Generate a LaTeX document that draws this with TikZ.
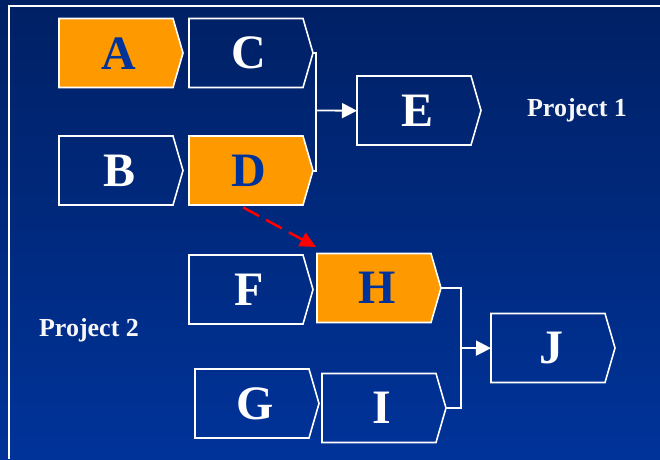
\documentclass[tikz,border=0pt]{standalone}
\usepackage{fontspec}
\setmainfont{Liberation Serif}
\usetikzlibrary{arrows.meta}
\definecolor{navytop}{RGB}{0,32,100}
\definecolor{navybot}{RGB}{0,51,153}
\definecolor{orng}{RGB}{255,153,0}
\definecolor{ltrblue}{RGB}{0,51,153}
\tikzset{
  boxtext/.style={minimum width=114pt, minimum height=69pt, inner sep=0pt,
    font=\fontsize{48}{48}\selectfont\bfseries, anchor=north west},
  outline/.style={draw=white, line width=1.6pt},
  conn/.style={draw=white, line width=1.8pt},
  projtext/.style={text=white!94!gray, font=\fontsize{26}{26}\selectfont\bfseries, inner sep=0pt},
}
\newcommand\taskbox[5]{%
  \path[outline, fill=#4] (#2,#3) -- ++(114,0) -- ++(10,34.5) -- ++(-10,34.5) -- ++(-114,0) -- cycle;
  \node[boxtext, text=#5] (#1) at (#2,#3) {\hspace{6pt}#1};
  \coordinate (#1tip) at ([xshift=10pt]#1.east);
}
\begin{document}
\begin{tikzpicture}[x=1pt, y=-1pt]
\useasboundingbox (0,0) rectangle (660,459);
\shade[top color=navytop, bottom color=navybot] (0,0) rectangle (660,459);
\draw[white, line width=2pt] (660,6) -- (9,6) -- (9,459);

\taskbox{A}{59}{18.5}{orng}{ltrblue}
\taskbox{C}{189}{18.5}{none}{white}
\taskbox{B}{59}{136}{none}{white}
\taskbox{D}{189}{136}{orng}{ltrblue}
\taskbox{E}{357}{76}{none}{white}
\taskbox{F}{189}{255}{none}{white}
\taskbox{H}{317}{253.5}{orng}{ltrblue}
\taskbox{G}{195}{369}{none}{white}
\taskbox{I}{322}{373.5}{none}{white}
\taskbox{J}{491}{313.5}{none}{white}

\coordinate (bus1) at (316,110.5);
\coordinate (bus2) at (461,348);

\draw[conn] (Ctip) -| (bus1) |- (Dtip);
\draw[conn, -{Triangle[length=15pt, width=15pt]}] (bus1) -- (E.west);
\draw[conn] (Htip) -| (bus2) |- (Itip);
\draw[conn, -{Triangle[length=15pt, width=15pt]}] (bus2) -- (J.west);

\draw[red, line width=2.5pt, dash pattern=on 18pt off 8pt,
  -{Triangle[length=16pt, width=15pt]}]
  ([xshift=-3pt, yshift=-2pt]D.south) -- ([xshift=-1pt, yshift=6.5pt]H.north west);

\node[projtext] (p1) at (577,110) {Project 1};
\node[projtext] (p2) at (89,330) {Project 2};
\end{tikzpicture}
\end{document}
